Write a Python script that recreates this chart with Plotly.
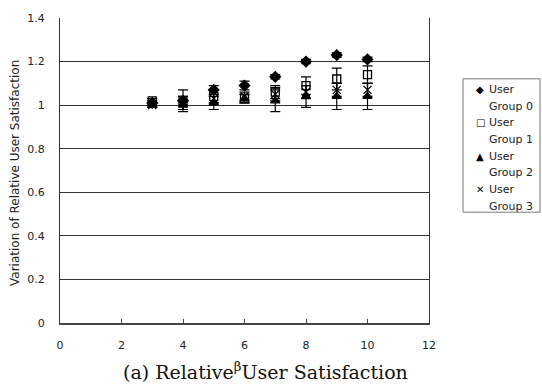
import plotly.graph_objects as go

beta = [3, 4, 5, 6, 7, 8, 9, 10]

group0 = [1.01, 1.02, 1.07, 1.09, 1.13, 1.20, 1.23, 1.21]
group0_err = [0.01, 0.02, 0.02, 0.02, 0.01, 0.01, 0.01, 0.01]

group1 = [1.02, 1.02, 1.04, 1.03, 1.06, 1.09, 1.12, 1.14]
group1_err = [0.01, 0.05, 0.03, 0.02, 0.03, 0.04, 0.05, 0.04]

group2 = [1.00, 1.00, 1.01, 1.03, 1.02, 1.04, 1.04, 1.04]
group2_err = [0.01, 0.02, 0.03, 0.02, 0.05, 0.05, 0.06, 0.06]

group3 = [1.00, 1.01, 1.03, 1.04, 1.05, 1.06, 1.07, 1.07]
group3_err = [0.01, 0.03, 0.02, 0.02, 0.03, 0.03, 0.03, 0.03]

group_names = ["Group 0", "Group 1", "Group 2", "Group 3"]
symbols = ["diamond", "square-open", "triangle-up", "x-thin-open"]
sizes = [8, 8, 8, 8]
legend_glyphs = ["◆", "□", "▲", "✕"]
series = [(group0, group0_err), (group1, group1_err), (group2, group2_err), (group3, group3_err)]

sans = "DejaVu Sans, Liberation Sans, sans-serif"
serif = "DejaVu Serif, Liberation Serif, serif"
ink = "#222"

fig = go.Figure()
for (vals, errs), name, sym, sz in zip(series, group_names, symbols, sizes):
    fig.add_trace(go.Scatter(
        x=beta, y=vals, mode="markers", name="User " + name,
        marker=dict(symbol=sym, size=sz, color="black",
                    line=dict(color="black", width=1.3)),
        error_y=dict(type="data", array=errs, visible=True,
                     color="black", thickness=1.2, width=5),
    ))

tick_font = dict(family=sans, size=11, color=ink)

# Plot-area frame in pixels; the legend and titles are placed relative to it
plot_left, plot_right, plot_top, plot_bottom = 60, 429, 12, 323
pw, ph = plot_right - plot_left, plot_bottom - plot_top


def px_x(x):
    return (x - plot_left) / pw


def px_y(y):
    return (plot_bottom - y) / ph


annotations = []
shapes = [dict(type="rect", xref="paper", yref="paper",
               x0=px_x(463), x1=px_x(540), y0=px_y(210), y1=px_y(74),
               line=dict(color="#777", width=1), fillcolor="white", layer="below")]
for i, (glyph, name) in enumerate(zip(legend_glyphs, group_names)):
    y_user = 85 + 34 * i
    annotations.append(dict(text=glyph, xref="paper", yref="paper",
                            x=px_x(480), y=px_y(y_user), xanchor="center", yanchor="middle",
                            showarrow=False, font=dict(family=sans, size=10, color="black")))
    annotations.append(dict(text="User", xref="paper", yref="paper",
                            x=px_x(487), y=px_y(y_user), xanchor="left", yanchor="middle",
                            showarrow=False, font=dict(family=sans, size=11, color=ink)))
    annotations.append(dict(text=name, xref="paper", yref="paper",
                            x=px_x(487), y=px_y(y_user + 17), xanchor="left", yanchor="middle",
                            showarrow=False, font=dict(family=sans, size=11, color=ink)))

annotations.append(dict(text="Variation of Relative User Satisfaction",
                        xref="paper", yref="paper", x=px_x(15), y=px_y(170),
                        xanchor="center", yanchor="middle", textangle=-90,
                        showarrow=False, font=dict(family=sans, size=12, color=ink)))
annotations.append(dict(text="(a) Relative<sup>β</sup>User Satisfaction",
                        xref="paper", yref="paper", x=px_x(265), y=px_y(372),
                        xanchor="center", yanchor="middle", showarrow=False,
                        font=dict(family=serif, size=19, color="#111")))

fig.update_layout(
    width=542, height=392,
    margin=dict(l=plot_left, r=542 - plot_right, t=plot_top, b=392 - plot_bottom),
    paper_bgcolor="white", plot_bgcolor="white",
    showlegend=False,
    xaxis=dict(
        range=[0, 12], dtick=2, tick0=0,
        showgrid=False, zeroline=False,
        showline=True, linecolor="#444", linewidth=1.5,
        ticks="inside", ticklen=4, tickcolor="#444",
        tickfont=tick_font, ticklabelstandoff=11,
    ),
    yaxis=dict(
        range=[0, 1.4], dtick=0.2, tick0=0, tickformat="~g",
        showgrid=True, gridcolor="#333", gridwidth=1,
        zeroline=False,
        showline=True, linecolor="#333", linewidth=1, mirror=True,
        ticks="", tickfont=tick_font, ticklabelstandoff=12,
    ),
    shapes=shapes,
    annotations=annotations,
)

fig.write_html("out.html")
